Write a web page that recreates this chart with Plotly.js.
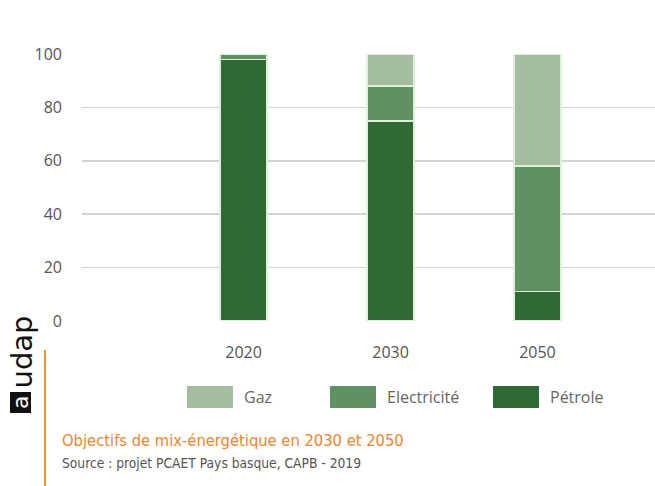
<!DOCTYPE html>
<html><head><meta charset="utf-8">
<script src="https://cdn.plot.ly/plotly-3.0.1.min.js"></script>
<style>html,body{margin:0;padding:0;background:#fff}#chart{width:655px;height:486px}</style>
</head><body><div id="chart"></div>
<script>
const years = ['2020', '2030', '2050'];
const seriesNames = ['Pétrole', 'Electricité', 'Gaz'];
const petrole = [98, 75, 11];
const electricite = [2, 13, 47];
const gaz = [0, 12, 42];
const colors = ['#2d6a35', '#5e9262', '#a4bd9f'];
const yTicks = [0, 20, 40, 60, 80, 100];
const legendOrder = ['Gaz', 'Electricité', 'Pétrole'];
const titleText = 'Objectifs de mix-énergétique en 2030 et 2050';
const sourceText = 'Source : projet PCAET Pays basque, CAPB - 2019';

const values = [petrole, electricite, gaz];
const traces = seriesNames.map((n, i) => ({
  type: 'bar', name: n, x: years, y: values[i],
  marker: {color: colors[i], line: {color: '#dff0da', width: 1.5}},
  showlegend: false, hoverinfo: 'skip'
}));

const shapes = [];
const annotations = [];
const px = x => (x - 82) / 573;
const py = y => (486 - y - 165) / 267;
// legend built from series names/colors
const legX = [187, 330, 493];
legendOrder.forEach((n, k) => {
  const i = seriesNames.indexOf(n);
  shapes.push({type: 'rect', xref: 'paper', yref: 'paper',
    x0: px(legX[k]), x1: px(legX[k] + 46), y0: py(408), y1: py(386),
    fillcolor: colors[i], line: {width: 0}});
  annotations.push({xref: 'paper', yref: 'paper', x: px(legX[k] + 55),
    y: py(397), xanchor: 'left', yanchor: 'middle', showarrow: false,
    text: n, font: {family: 'Open Sans, sans-serif', size: 16, color: '#666'}});
});
// orange vertical line
shapes.push({type: 'line', xref: 'paper', yref: 'paper',
  x0: px(45), x1: px(45), y0: py(486), y1: py(350),
  line: {color: '#f0913a', width: 2}});
// logo box
shapes.push({type: 'rect', xref: 'paper', yref: 'paper',
  x0: px(10), x1: px(31), y0: py(413), y1: py(392),
  fillcolor: '#111', line: {width: 0}});
annotations.push({xref: 'paper', yref: 'paper', x: px(20.5), y: py(402.5),
  text: 'a', textangle: -90, showarrow: false, xanchor: 'center', yanchor: 'middle',
  font: {family: 'DejaVu Sans, sans-serif', size: 22, color: '#fff'}});
annotations.push({xref: 'paper', yref: 'paper', x: px(21), y: py(391),
  text: 'udap', textangle: -90, showarrow: false, xanchor: 'center', yanchor: 'bottom',
  font: {family: 'DejaVu Sans, sans-serif', size: 29, color: '#111'}});
annotations.push({xref: 'paper', yref: 'paper', x: px(60), y: py(440),
  text: titleText, showarrow: false, xanchor: 'left', yanchor: 'middle',
  font: {family: 'DejaVu Sans Condensed, Liberation Sans Narrow, sans-serif', size: 16.4, color: '#f0842c'}});
annotations.push({xref: 'paper', yref: 'paper', x: px(60), y: py(463),
  text: sourceText, showarrow: false, xanchor: 'left', yanchor: 'middle',
  font: {family: 'DejaVu Sans Condensed, Liberation Sans Narrow, sans-serif', size: 13.7, color: '#555'}});

const layout = {
  width: 655, height: 486,
  margin: {l: 82, r: 0, t: 54, b: 165},
  paper_bgcolor: '#fff', plot_bgcolor: '#fff',
  barmode: 'stack', bargap: 0.68,
  xaxis: {type: 'category', categoryarray: years, range: [-1.10, 2.80],
    showgrid: false, showline: false, zeroline: false, ticks: '',
    ticklabelstandoff: 20,
    tickfont: {family: 'Open Sans, sans-serif', size: 16, color: '#555'}},
  yaxis: {range: [0, 100], tickvals: yTicks, showgrid: true, gridcolor: '#d4d4d4', gridwidth: 1.5,
    zeroline: false, showline: false, ticks: '', ticklabelstandoff: 19,
    tickfont: {family: 'Open Sans, sans-serif', size: 16, color: '#555'}},
  shapes: shapes, annotations: annotations, showlegend: false
};
Plotly.newPlot('chart', traces, layout, {displayModeBar: false, staticPlot: true});
</script></body></html>
